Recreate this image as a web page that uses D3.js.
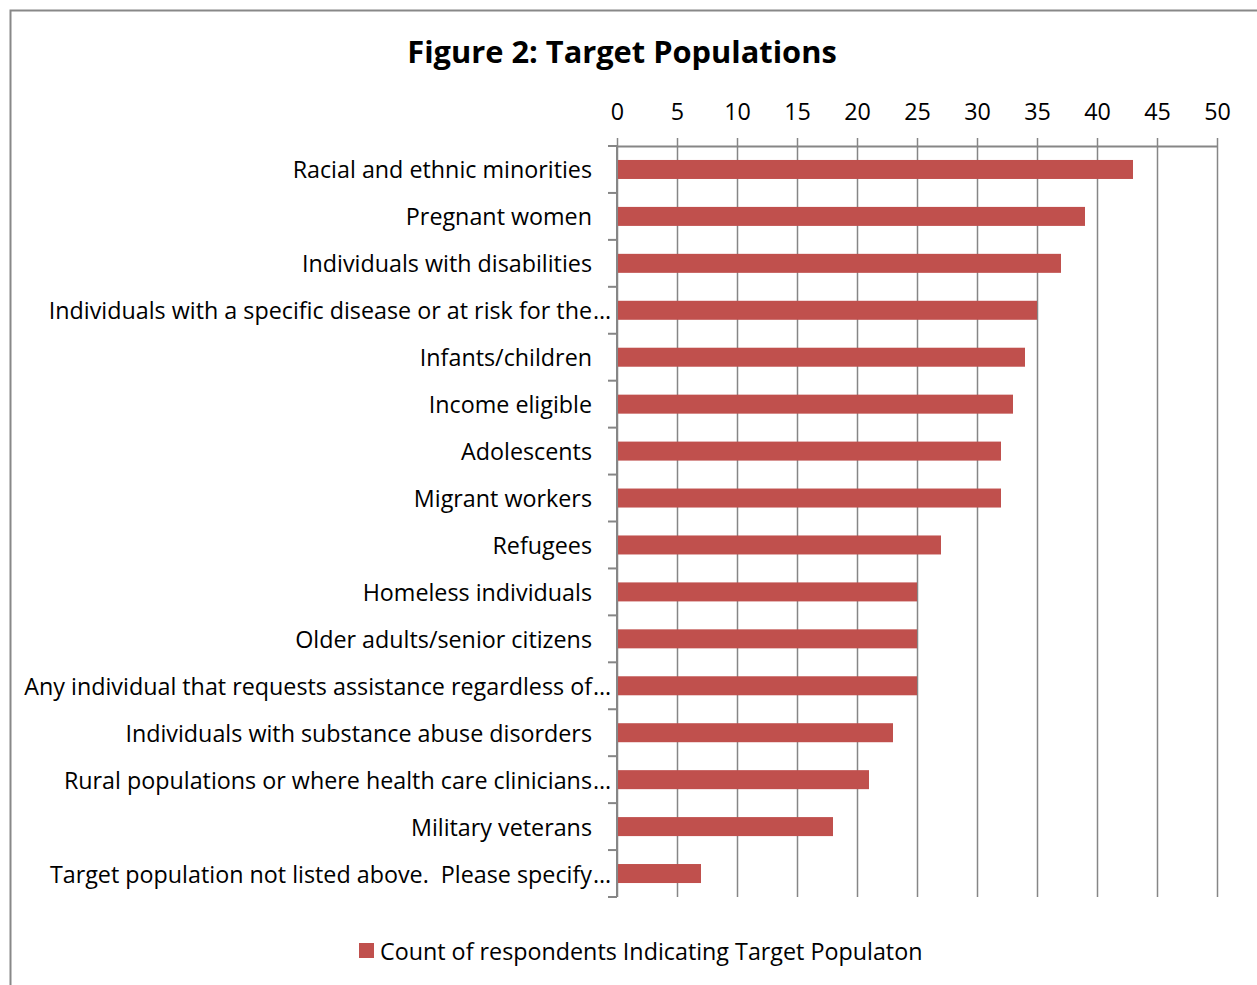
<!DOCTYPE html>
<html>
<head>
<meta charset="utf-8">
<script src="https://cdn.jsdelivr.net/npm/d3@7"></script>
<style>
  body { margin: 0; background: #fff; }
  svg text { font-family: "Open Sans", sans-serif; fill: #000; white-space: pre; }
</style>
</head>
<body>
<div id="chart"></div>
<script>
// data
const categories = [
    "Racial and ethnic minorities",
    "Pregnant women",
    "Individuals with disabilities",
    "Individuals with a specific disease or at risk for the…",
    "Infants/children",
    "Income eligible",
    "Adolescents",
    "Migrant workers",
    "Refugees",
    "Homeless individuals",
    "Older adults/senior citizens",
    "Any individual that requests assistance regardless of…",
    "Individuals with substance abuse disorders",
    "Rural populations or where health care clinicians…",
    "Military veterans",
    "Target population not listed above.  Please specify…"
];
const counts = [43, 39, 37, 35, 34, 33, 32, 32, 27, 25, 25, 25, 23, 21, 18, 7];
const tickValues = [0, 5, 10, 15, 20, 25, 30, 35, 40, 45, 50];
const seriesName = "Count of respondents Indicating Target Populaton";
const chartTitle = "Figure 2: Target Populations";

const data = categories.map((c, i) => ({ cat: c, value: counts[i] }));

const fontSize = "23.3px";

// set the dimensions and margins of the graph
var margin = {top: 146, right: 40, bottom: 88, left: 617},
    width = 600,
    height = 751;

const svg = d3.select("#chart")
  .append("svg")
    .attr("width", 1257)
    .attr("height", 985);

// chart frame (runs off the right/bottom edge like the original)
svg.append("rect")
    .attr("x", 10.5).attr("y", 10.5)
    .attr("width", 1260).attr("height", 990)
    .attr("fill", "none")
    .attr("stroke", "#888")
    .attr("stroke-width", 2);

svg.append("text")
    .attr("x", 622)
    .attr("y", 63)
    .attr("text-anchor", "middle")
    .style("font-size", "30.8px")
    .style("font-weight", "bold")
    .text(chartTitle);

const g = svg.append("g")
    .attr("transform", "translate(" + margin.left + "," + margin.top + ")");

var x = d3.scaleLinear()
    .domain([0, 50])
    .range([0, width]);

var y = d3.scaleBand()
    .domain(categories)
    .range([0, height])
    .paddingInner(0)
    .paddingOuter(0);

// top axis with gridlines running down the plot
const xAxis = g.append("g")
    .call(d3.axisTop(x).tickValues(tickValues).tickSizeInner(8).tickSizeOuter(0).tickPadding(18));

xAxis.select(".domain").attr("stroke", "#868686").attr("stroke-width", 2);
xAxis.selectAll(".tick line")
    .attr("y1", height)
    .attr("stroke", "#868686")
    .attr("stroke-width", 1.5);
xAxis.selectAll(".tick text")
    .style("font-size", fontSize)
    .style("font-family", "'Open Sans', sans-serif")
    .attr("fill", "#000");

// bars
const bandH = y.bandwidth();
const barH = 19;
g.selectAll("rect.bar")
    .data(data)
    .enter()
    .append("rect")
    .attr("class", "bar")
    .attr("x", x(0))
    .attr("y", d => y(d.cat) + (bandH - barH) / 2)
    .attr("width", d => x(d.value) - x(0))
    .attr("height", barH)
    .style("fill", "#c0504d");

// left category axis: line plus ticks at band boundaries
g.append("line")
    .attr("x1", 0).attr("x2", 0)
    .attr("y1", 0).attr("y2", height)
    .attr("stroke", "#868686")
    .attr("stroke-width", 2);

const edges = categories.map(c => y(c)).concat([height]);
g.selectAll("line.ytick")
    .data(edges)
    .enter()
    .append("line")
    .attr("class", "ytick")
    .attr("x1", -9).attr("x2", 0)
    .attr("y1", d => d).attr("y2", d => d)
    .attr("stroke", "#868686")
    .attr("stroke-width", 2);

// category labels; truncated ones let the ellipsis hang past the label edge
const labelX = -25;
categories.forEach(c => {
    const cy = y(c) + bandH / 2 + 9;
    const cut = c.endsWith("…");
    g.append("text")
        .attr("x", labelX)
        .attr("y", cy)
        .attr("text-anchor", "end")
        .style("font-size", fontSize)
        .text(cut ? c.slice(0, -1) : c);
    if (cut) {
        g.append("text")
            .attr("x", labelX + 1)
            .attr("y", cy)
            .style("font-size", fontSize)
            .text("…");
    }
});

// legend
const legend = svg.append("g").attr("transform", "translate(359,943)");
legend.append("rect")
    .attr("width", 15).attr("height", 15)
    .style("fill", "#c0504d");
legend.append("text")
    .attr("x", 21)
    .attr("y", 17)
    .style("font-size", fontSize)
    .text(seriesName);
</script>
</body>
</html>
